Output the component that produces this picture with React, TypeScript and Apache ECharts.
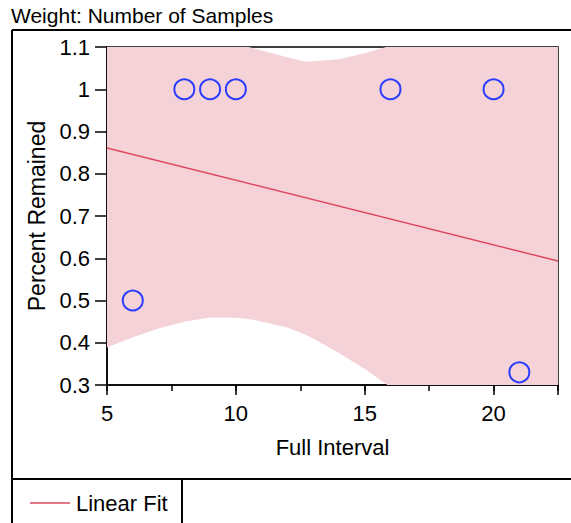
import React, { useEffect, useRef } from "react";
import * as echarts from "echarts";

const pointsX = [6, 8, 9, 10, 16, 20, 21];
const pointsY = [0.5, 1.0, 1.0, 1.0, 1.0, 1.0, 0.33];

const fitX = [5, 22.5];
const fitY = [0.861, 0.5935];

const bandX = [5, 6, 7, 8, 9, 10, 10.5, 11, 12, 12.7, 13, 14, 15, 16, 17, 18, 19, 20, 21, 22.5];
const bandLower = [0.389, 0.413, 0.434, 0.45, 0.46, 0.459, 0.456, 0.45, 0.436, 0.419, 0.41, 0.376, 0.338, 0.295, 0.25, 0.205, 0.16, 0.11, 0.06, -0.01];
const bandUpper = [1.33, 1.29, 1.25, 1.21, 1.17, 1.125, 1.1, 1.092, 1.076, 1.065, 1.066, 1.071, 1.085, 1.103, 1.14, 1.175, 1.21, 1.25, 1.29, 1.34];

const xTickLabels = ["5", "10", "15", "20"];

const FONT = "'Liberation Sans', Arial, sans-serif";

export default function App() {
  const ref = useRef<HTMLDivElement>(null);
  useEffect(() => {
    document.body.style.margin = "0";
    const chart = echarts.init(ref.current!, null, { renderer: "svg" });
    const bandData = bandX.map((x, i) => [x, bandLower[i], bandUpper[i]]);
    const option: any = {
      animation: false,
      backgroundColor: "#fff",
      textStyle: { fontFamily: FONT },
      title: {
        text: "Weight: Number of Samples",
        left: 11,
        top: 5,
        padding: 0,
        textStyle: { fontFamily: FONT, fontSize: 21, fontWeight: "normal", color: "#000" },
      },
      legend: {
        data: [{ name: "Linear Fit", icon: "rect" }],
        left: 30,
        top: 492,
        padding: 0,
        itemWidth: 40,
        itemHeight: 1.5,
        textStyle: { fontFamily: FONT, fontSize: 22, color: "#000", padding: [0, 0, 0, 1] },
      },
      grid: {
        left: 107,
        right: 13,
        top: 47,
        bottom: 138,
        show: true,
        borderColor: "#000",
        borderWidth: 1.5,
        backgroundColor: "#fff",
      },
      xAxis: [
        {
          type: "value",
          position: "bottom",
          min: 5,
          max: 22.5,
          interval: 5,
          name: "Full Interval",
          nameLocation: "middle",
          nameGap: 51,
          nameTextStyle: { fontFamily: FONT, fontSize: 22, color: "#000" },
          axisLine: { show: true, lineStyle: { color: "#000", width: 1.5 } },
          axisTick: { show: true, length: 10, lineStyle: { color: "#000", width: 1.5 } },
          axisLabel: {
            margin: 17,
            fontFamily: FONT,
            fontSize: 22,
            color: "#000",
            formatter: (v: number) => {
              const s = String(Math.round(v * 10) / 10);
              return xTickLabels.includes(s) ? s : "";
            },
          },
          splitLine: { show: false },
        },
        {
          type: "value",
          position: "bottom",
          min: 5,
          max: 22.5,
          interval: 2.5,
          axisLine: { show: false },
          axisTick: { show: true, length: 6, lineStyle: { color: "#000", width: 1.5 } },
          axisLabel: { show: false },
          splitLine: { show: false },
        },
      ],
      yAxis: {
        type: "value",
        min: 0.3,
        max: 1.1,
        interval: 0.1,
        name: "Percent Remained",
        nameLocation: "middle",
        nameGap: 58,
        nameTextStyle: { fontFamily: FONT, fontSize: 23, color: "#000" },
        axisLine: { show: true, lineStyle: { color: "#000", width: 1.5 } },
        axisTick: { show: true, length: 12, lineStyle: { color: "#000", width: 1.5 } },
        axisLabel: {
          margin: 17,
          fontFamily: FONT,
          fontSize: 22,
          color: "#000",
          formatter: (v: number) => String(Math.round(v * 10) / 10),
        },
        splitLine: { show: false },
      },
      series: [
        {
          name: "Confidence Band",
          type: "custom",
          data: bandData,
          encode: { x: 0, y: [1, 2] },
          clip: true,
          silent: true,
          z: 1,
          renderItem: (params: any, api: any) => {
            if (params.dataIndex !== 0) return null;
            const pts: number[][] = [];
            for (let i = 0; i < bandX.length; i++) pts.push(api.coord([bandX[i], bandUpper[i]]));
            for (let i = bandX.length - 1; i >= 0; i--) pts.push(api.coord([bandX[i], bandLower[i]]));
            return {
              type: "polygon",
              shape: { points: pts },
              style: { fill: "#f5d2d8", stroke: "none" },
            };
          },
        },
        {
          name: "Linear Fit",
          type: "line",
          data: fitX.map((x, i) => [x, fitY[i]]),
          symbol: "none",
          lineStyle: { color: "#dc4a60", width: 1.5 },
          itemStyle: { color: "#dc4a60" },
          z: 3,
        },
        {
          name: "Points",
          type: "scatter",
          data: pointsX.map((x, i) => [x, pointsY[i]]),
          symbol: "circle",
          symbolSize: 20,
          itemStyle: { color: "rgba(0,0,0,0)", borderColor: "#2a3cff", borderWidth: 2, opacity: 1 },
          z: 4,
        },
      ],
      graphic: [
        { type: "line", shape: { x1: 12, y1: 30, x2: 12, y2: 523 }, style: { stroke: "#000", lineWidth: 2 } },
        { type: "line", shape: { x1: 12, y1: 30, x2: 571, y2: 30 }, style: { stroke: "#000", lineWidth: 2 } },
        { type: "line", shape: { x1: 12, y1: 479, x2: 571, y2: 479 }, style: { stroke: "#000", lineWidth: 2 } },
        { type: "line", shape: { x1: 182, y1: 479, x2: 182, y2: 523 }, style: { stroke: "#000", lineWidth: 2 } },
      ],
    };
    chart.setOption(option);
    return () => chart.dispose();
  }, []);
  return <div ref={ref} style={{ width: 571, height: 523 }} />;
}
